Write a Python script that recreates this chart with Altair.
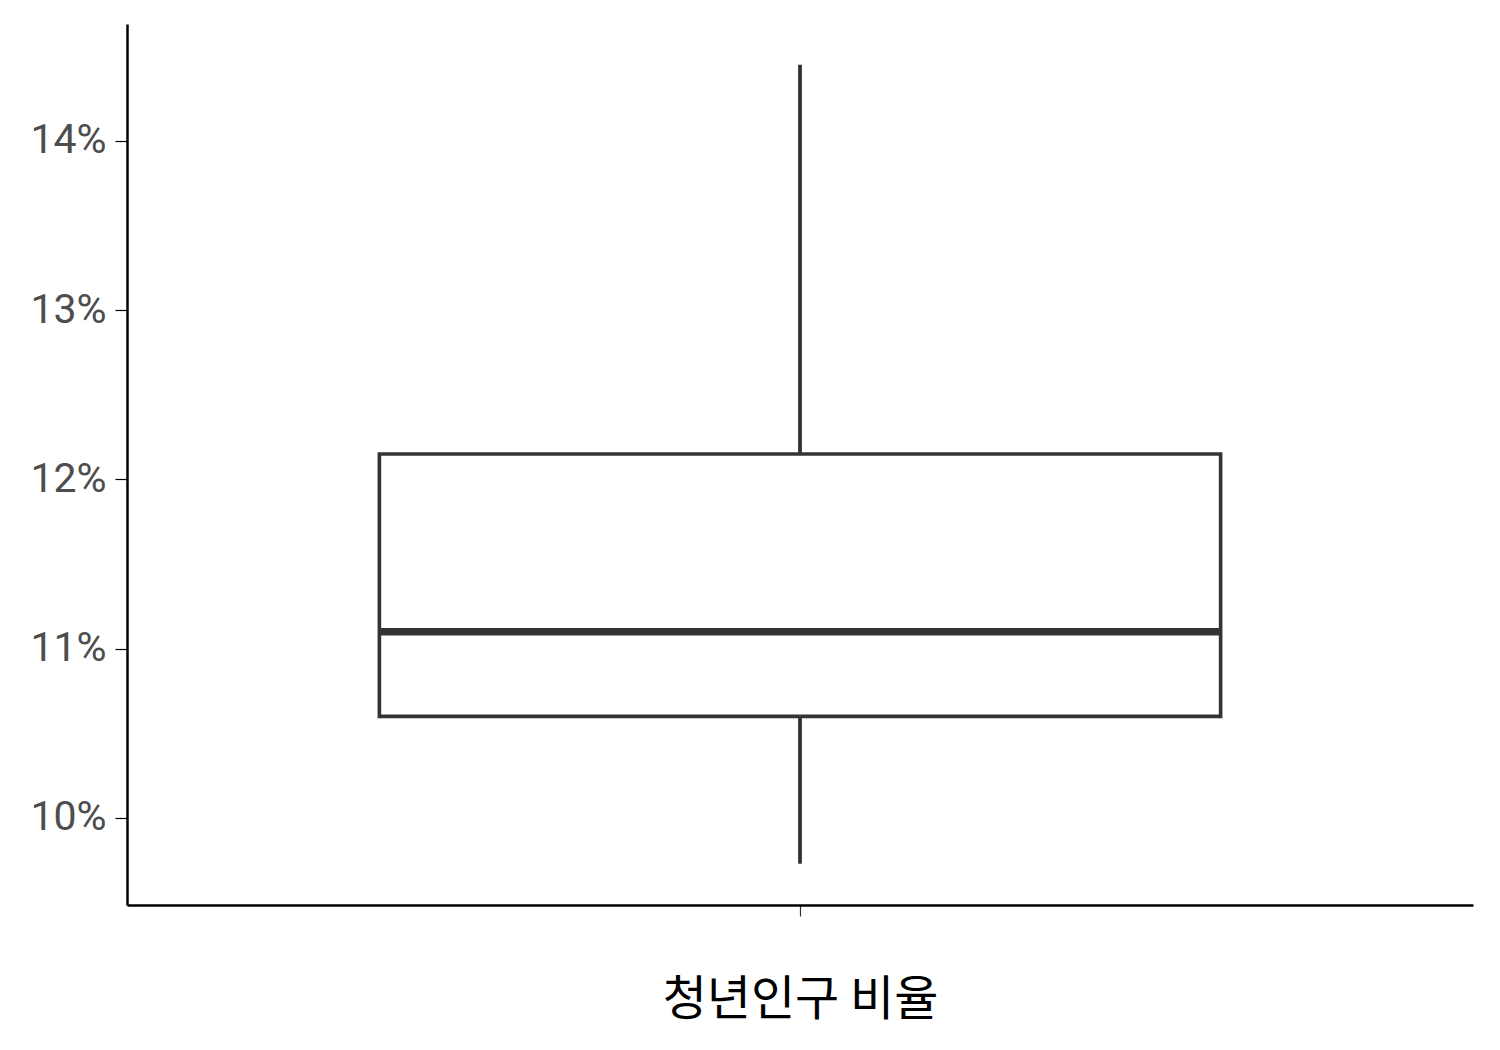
import altair as alt
import pandas as pd

category = ["청년인구 비율"]
lower = [9.73]
q1 = [10.6]
median = [11.1]
q3 = [12.15]
upper = [14.45]
y_ticks = [10, 11, 12, 13, 14]

df = pd.DataFrame({"cat": category, "lower": lower, "q1": q1, "median": median, "q3": q3, "upper": upper})

xenc = alt.X("cat:N", title="청년인구 비율",
             scale=alt.Scale(paddingInner=0, paddingOuter=0.3),
             axis=alt.Axis(labels=False, ticks=True, tickSize=11, tickColor="#333333", tickWidth=1.2,
                           domainColor="black", domainWidth=2.5,
                           titleFont="Noto Sans CJK KR", titleFontSize=48, titleFontWeight="normal",
                           titleColor="black", titlePadding=60))
yscale = alt.Scale(domain=[9.486, 14.69], zero=False, nice=False)
yaxis = alt.Axis(values=y_ticks, labelExpr="datum.value + '%'", title=None, grid=False,
                 labelFont="Roboto", labelFontSize=41, labelColor="#4d4d4d", labelPadding=9,
                 tickSize=12, tickColor="black", tickWidth=1.2,
                 domainColor="black", domainWidth=2.5)

base = alt.Chart(df)

upper_wh = base.mark_rule(color="#333333", strokeWidth=3.8).encode(
    x=xenc, y=alt.Y("q3:Q", scale=yscale, axis=yaxis), y2="upper:Q")
lower_wh = base.mark_rule(color="#333333", strokeWidth=3.8).encode(
    x=xenc, y=alt.Y("lower:Q", scale=yscale, axis=yaxis), y2="q1:Q")
box = base.mark_bar(fill="white", stroke="#333333", strokeWidth=3.6).encode(
    x=xenc, y=alt.Y("q1:Q", scale=yscale, axis=yaxis), y2="q3:Q")
med = base.mark_bar(fill="#333333", stroke="#333333", strokeWidth=7.5).encode(
    x=xenc, y=alt.Y("median:Q", scale=yscale, axis=yaxis), y2="median:Q")

chart = alt.layer(upper_wh, lower_wh, box, med).properties(
    width=1346, height=881,
    autosize=alt.AutoSizeParams(type="none"),
    padding={"left": 119, "top": 16, "right": 19, "bottom": 130},
).configure(background="white").configure_view(stroke=None, strokeWidth=0)

chart.save("out.html", embed_options={"renderer": "svg", "actions": False})
